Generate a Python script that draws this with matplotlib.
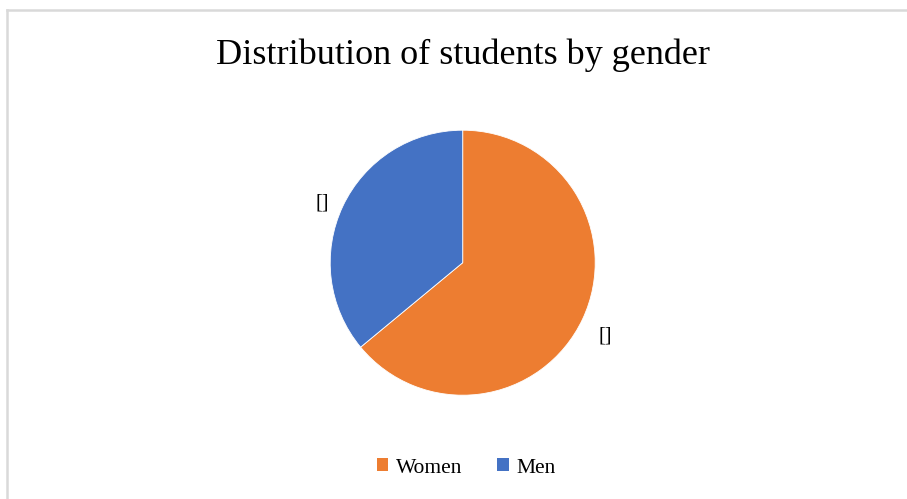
import matplotlib
matplotlib.use("Agg")
import matplotlib.pyplot as plt
from matplotlib.lines import Line2D
from matplotlib.patches import Patch

categories = ["Women", "Men"]
values = [64, 36]
colors = ["#ED7D31", "#4472C4"]
data_labels = ["[]", "[]"]
title = "Distribution of students by gender"

plt.rcParams['font.family'] = ['Liberation Serif', 'DejaVu Serif']

W, H = 907, 499
fig = plt.figure(figsize=(W / 100, H / 100), dpi=100)

# frame (light grey, cropped at right and bottom)
fig.add_artist(Line2D([7 / W, 1], [1 - 10 / H, 1 - 10 / H], color="#D9D9D9", lw=1.8, transform=fig.transFigure))
fig.add_artist(Line2D([7 / W, 7 / W], [0, 1 - 10 / H], color="#D9D9D9", lw=1.8, transform=fig.transFigure))

cx, cy, r = 462.7, 262.7, 132.5
ax = fig.add_axes([(cx - r) / W, (H - cy - r) / H, 2 * r / W, 2 * r / H])
wedges, _ = ax.pie(values, colors=colors, startangle=90, counterclock=False,
                   radius=1.0, wedgeprops=dict(linewidth=0.6, edgecolor="white"))
ax.set_xlim(-1, 1)
ax.set_ylim(-1, 1)
ax.set_aspect("auto")

# data labels
fig.text(605 / W, 1 - 336 / H, data_labels[0], fontsize=14.5, ha="center", va="center")
fig.text(322 / W, 1 - 203 / H, data_labels[1], fontsize=14.5, ha="center", va="center")

fig.text(cx / W, 1 - 55 / H, title, fontsize=26, ha="center", va="center")

handles = [Patch(facecolor=c, edgecolor="none") for c in colors]
fig.legend(handles, categories, loc="center", bbox_to_anchor=(466 / W, 1 - 468 / H),
           ncol=2, frameon=False, fontsize=15.5, handlelength=0.55, handleheight=0.55,
           handletextpad=0.35, columnspacing=1.6)

fig.savefig("out.png", dpi=100)
